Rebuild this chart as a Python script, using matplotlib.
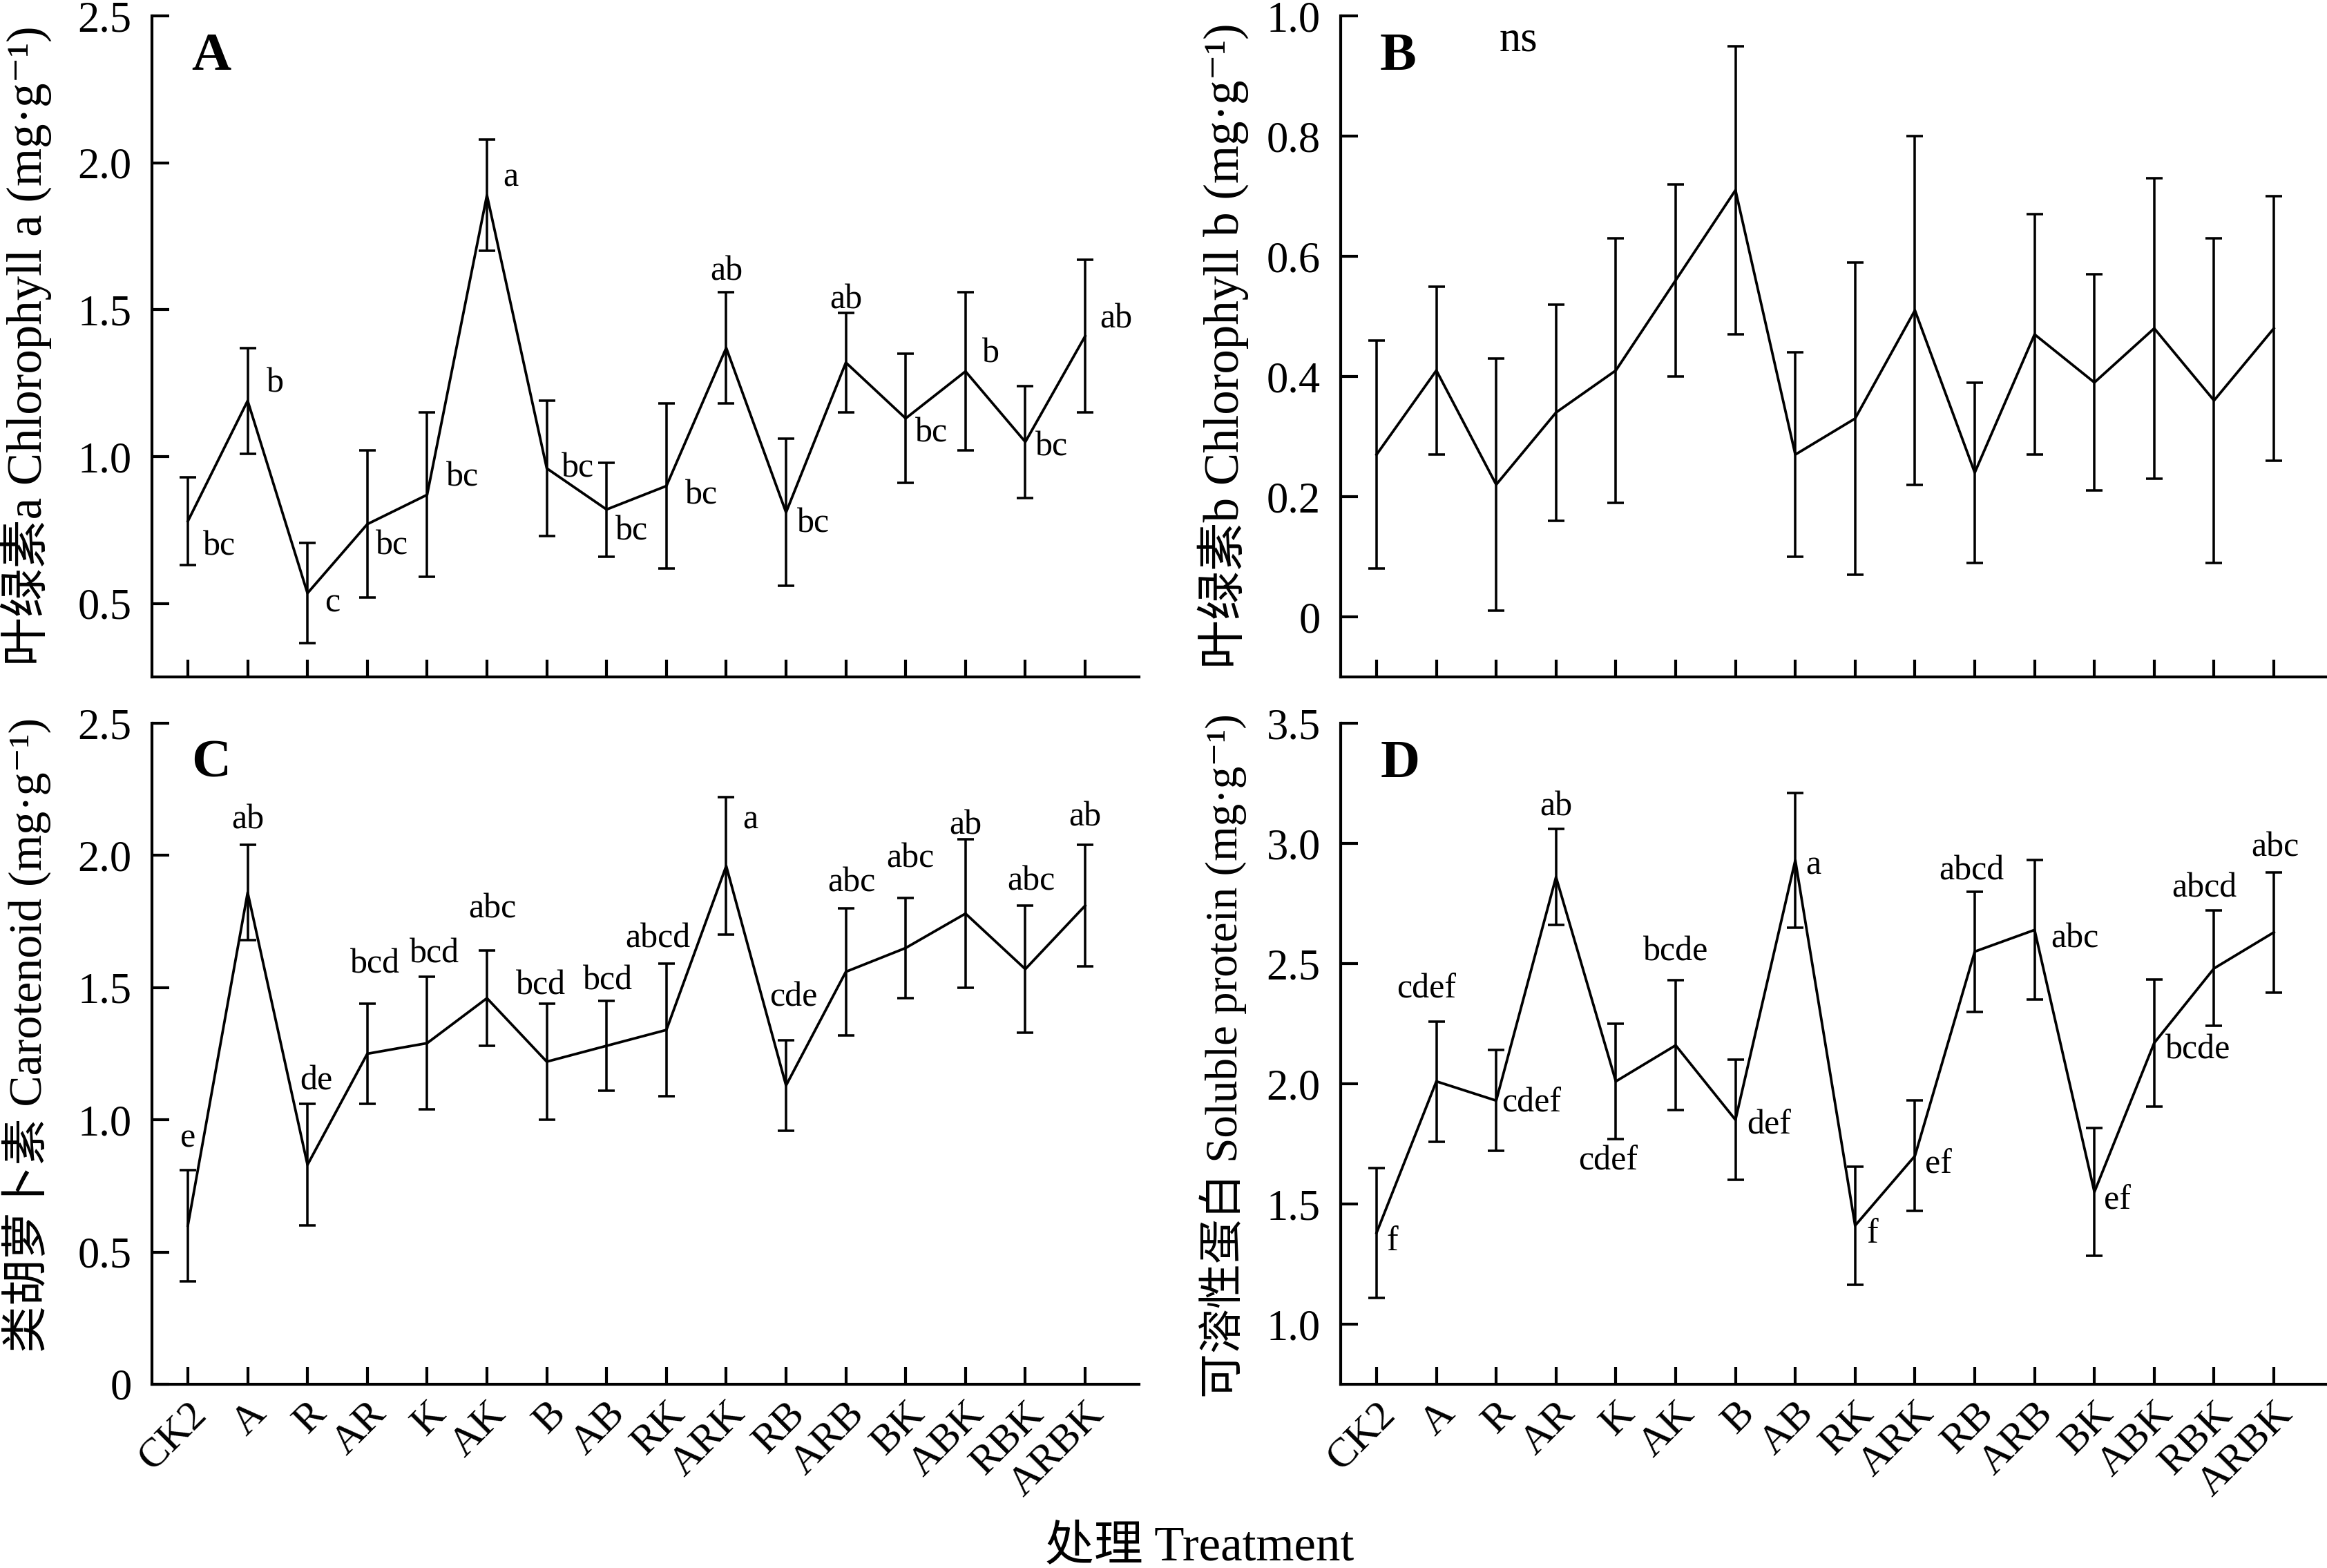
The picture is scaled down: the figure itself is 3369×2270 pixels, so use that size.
import matplotlib
matplotlib.use('Agg')
import matplotlib.pyplot as plt
import numpy as np

plt.rcParams['font.family'] = ['Liberation Serif', 'DejaVu Serif', 'Noto Sans CJK SC']

treatments = ['CK2', 'A', 'R', 'AR', 'K', 'AK', 'B', 'AB', 'RK', 'ARK',
              'RB', 'ARB', 'BK', 'ABK', 'RBK', 'ARBK']

# A  chlorophyll a
chla_mean = [0.78, 1.19, 0.535, 0.77, 0.87, 1.89, 0.96, 0.82, 0.90, 1.37, 0.81, 1.32, 1.13, 1.29, 1.05, 1.41]
chla_sd = [0.15, 0.18, 0.17, 0.25, 0.28, 0.19, 0.23, 0.16, 0.28, 0.19, 0.25, 0.17, 0.22, 0.27, 0.19, 0.26]
chla_sig = ['bc', 'b', 'c', 'bc', 'bc', 'a', 'bc', 'bc', 'bc', 'ab', 'bc', 'ab', 'bc', 'b', 'bc', 'ab']

# B  chlorophyll b
chlb_mean = [0.27, 0.41, 0.22, 0.34, 0.41, 0.56, 0.71, 0.27, 0.33, 0.51, 0.24, 0.47, 0.39, 0.48, 0.36, 0.48]
chlb_sd = [0.19, 0.14, 0.21, 0.18, 0.22, 0.16, 0.24, 0.17, 0.26, 0.29, 0.15, 0.20, 0.18, 0.25, 0.27, 0.22]

# C  carotenoid
car_mean = [0.60, 1.86, 0.83, 1.25, 1.29, 1.46, 1.22, 1.28, 1.34, 1.96, 1.13, 1.56, 1.65, 1.78, 1.57, 1.81]
car_sd = [0.21, 0.18, 0.23, 0.19, 0.25, 0.18, 0.22, 0.17, 0.25, 0.26, 0.17, 0.24, 0.19, 0.28, 0.24, 0.23]
car_sig = ['e', 'ab', 'de', 'bcd', 'bcd', 'abc', 'bcd', 'bcd', 'abcd', 'a', 'cde', 'abc', 'abc', 'ab', 'abc', 'ab']

# D  soluble protein
prot_mean = [1.38, 2.01, 1.93, 2.86, 2.01, 2.16, 1.85, 2.93, 1.41, 1.70, 2.55, 2.64, 1.55, 2.17, 2.48, 2.63]
prot_sd = [0.27, 0.25, 0.21, 0.20, 0.24, 0.27, 0.25, 0.28, 0.245, 0.23, 0.25, 0.29, 0.265, 0.265, 0.24, 0.25]
prot_sig = ['f', 'cdef', 'cdef', 'ab', 'cdef', 'bcde', 'def', 'a', 'f', 'ef', 'abcd', 'abc', 'ef', 'bcde', 'abcd', 'abc']

# where each letter sits: p = beside the point, t = above the bar, b = below the bar
chla_where = ['p', 'p', 'p', 'p', 'p', 'p', 'p', 'p', 'p', 't', 'p', 't', 'p', 'p', 'p', 'p']
chla_off = [(5.2, -8.8), (6.5, 6), (6, -3.4), (3, -7.5), (6.5, 6), (5.7, 6), (5.2, 0), (3, -7.7),
            (6.5, -3.2), (0, 7), (3.9, -3.9), (0, 4.5), (3.4, -5.2), (5.7, 6), (3.4, -1.8), (5.2, 5.8)]
car_where = ['t', 't', 't', 't', 't', 't', 't', 't', 't', 'p', 't', 't', 't', 't', 't', 't']
car_off = [(0, 11), (0, 8.5), (3, 7.8), (2.6, 13.6), (2.6, 8), (2, 14.5), (-2, 6.2), (0.5, 7),
           (-3, 8.7), (5.7, 16), (2.6, 15), (2, 8.7), (1.5, 13.6), (0, 4.9), (2, 8.4), (0, 9.5)]
prot_where = ['p', 't', 'p', 't', 'b', 't', 'p', 'p', 'p', 'p', 't', 'p', 'p', 'p', 't', 't']
prot_off = [(3.4, -3), (-3.4, 11), (2, -1), (0, 7.7), (-2.6, -7.7), (0, 9.8), (3.9, -2), (3.6, -2),
            (4, -3), (3.6, -3), (-1, 7), (5.7, -3), (3.4, -3), (3.9, -2.6), (-3.4, 7.7), (0.5, 8.5)]


def fmt(v):
    return '0' if v == 0 else f'{v:.1f}'


def panel(ax, mean, sd, ylim, yticks, letter, sig=None, where=None, off=None, xlabels=True):
    x = np.arange(len(treatments))
    ax.errorbar(x, mean, yerr=sd, color='k', lw=0.9, elinewidth=0.85,
                capsize=2.8, capthick=0.85)
    ax.set_xlim(-0.6, 15.9)
    ax.set_ylim(*ylim)
    ax.set_yticks(yticks)
    ax.set_yticklabels([fmt(v) for v in yticks])
    ax.set_xticks(x)
    ax.set_xticklabels(treatments, rotation=45, ha='right', va='top',
                       rotation_mode='anchor', fontsize=14.5)
    for s in ['top', 'right']:
        ax.spines[s].set_visible(False)
    for s in ['left', 'bottom']:
        ax.spines[s].set_linewidth(1.0)
    ax.tick_params(axis='both', direction='in', length=6, width=1.0)
    ax.tick_params(axis='y', pad=7, labelsize=15)
    ax.tick_params(axis='x', pad=3.8, labelbottom=xlabels)
    ax.text(0.04, 0.975, letter, transform=ax.transAxes, fontsize=19,
            fontweight='bold', ha='left', va='top')
    if sig is not None:
        for i, s in enumerate(sig):
            if where[i] == 'p':
                yy, ha = mean[i], 'left'
            elif where[i] == 't':
                yy, ha = mean[i] + sd[i], 'center'
            else:
                yy, ha = mean[i] - sd[i], 'center'
            ax.annotate(s, xy=(x[i], yy), xytext=off[i], textcoords='offset points',
                        ha=ha, va='center', fontsize=12)


fig = plt.figure(figsize=(3369 / 300, 2270 / 300))
W, H = 3369, 2270
ax_a = fig.add_axes([220 / W, 1 - 980 / H, 1429 / W, 957 / H])
ax_b = fig.add_axes([1941 / W, 1 - 980 / H, 1429 / W, 957 / H])
ax_c = fig.add_axes([220 / W, 1 - 2004 / H, 1429 / W, 957 / H])
ax_d = fig.add_axes([1941 / W, 1 - 2004 / H, 1429 / W, 957 / H])

panel(ax_a, chla_mean, chla_sd, (0.25, 2.5), [0.5, 1.0, 1.5, 2.0, 2.5], 'A', chla_sig, chla_where, chla_off,
      xlabels=False)
panel(ax_b, chlb_mean, chlb_sd, (-0.1, 1.0), [0, 0.2, 0.4, 0.6, 0.8, 1.0], 'B', xlabels=False)
panel(ax_c, car_mean, car_sd, (0, 2.5), [0, 0.5, 1.0, 1.5, 2.0, 2.5], 'C', car_sig, car_where, car_off)
panel(ax_d, prot_mean, prot_sd, (0.75, 3.5), [1.0, 1.5, 2.0, 2.5, 3.0, 3.5], 'D', prot_sig, prot_where, prot_off)

ax_b.text(0.18, 0.963, 'ns', transform=ax_b.transAxes, fontsize=15, ha='center', va='center')

fig.text(38 / W, 1 - 501 / H, '叶绿素a Chlorophyll a (mg·g⁻¹)', rotation=90,
         ha='center', va='center', fontsize=17)
fig.text(1771 / W, 1 - 501 / H, '叶绿素b Chlorophyll b (mg·g⁻¹)', rotation=90,
         ha='center', va='center', fontsize=17)
fig.text(38 / W, 1 - 1498 / H, '类胡萝卜素 Carotenoid (mg·g⁻¹)', rotation=90,
         ha='center', va='center', fontsize=16.3)
fig.text(1771 / W, 1 - 1529 / H, '可溶性蛋白 Soluble protein (mg·g⁻¹)', rotation=90,
         ha='center', va='center', fontsize=15.6)
fig.text(1737 / W, 1 - 2241 / H, '处理 Treatment', ha='center', va='center', fontsize=17)

fig.savefig('out.png', dpi=300)
